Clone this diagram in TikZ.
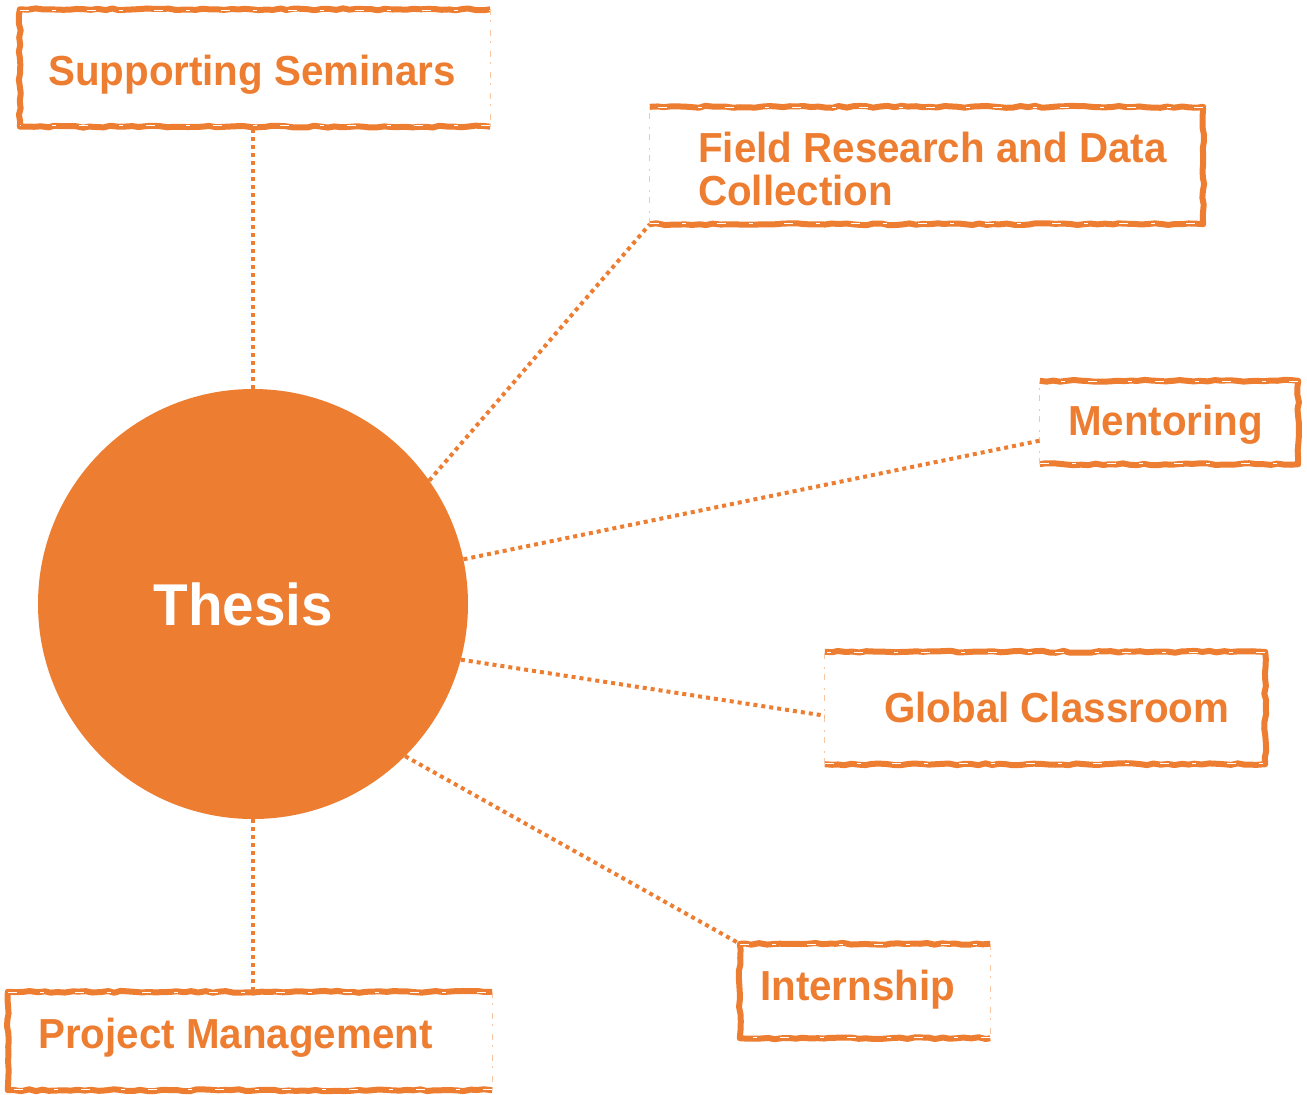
\documentclass[tikz,border=0pt]{standalone}
\usepackage{fontspec}
\setmainfont{Liberation Sans}[FakeStretch=0.96]
\usetikzlibrary{decorations.pathmorphing}
\definecolor{org}{HTML}{ED7D31}
\begin{document}
\begin{tikzpicture}[x=1pt,y=-1pt,
  lbl/.style={text=org,font=\bfseries\fontsize{42}{44}\selectfont,inner sep=0pt},
  boxnode/.style={draw=none,inner sep=0pt,minimum width=#1},
  thickside/.style={draw=org,line width=6pt,line join=round,
    decorate,decoration={random steps,segment length=7pt,amplitude=1pt}},
  streak/.style={draw=white,line width=0.7pt,dash pattern=on 9pt off 23pt on 4pt off 31pt},
  faintside/.style={draw=org!45,line width=1.2pt,dash pattern=on 6pt off 5pt on 2pt off 8pt},
  link/.style={draw=org,line width=4pt,dash pattern=on 4pt off 4pt}]
\useasboundingbox (0,0) rectangle (1307,1095);

% central circle
\node[circle,fill=org,minimum size=430pt,inner sep=0pt] (thesis) at (253,604) {};
\node[text=white,font=\bfseries\fontsize{59}{60}\selectfont,inner sep=0pt,anchor=base] (thesis-t) at (243.5,625) {Thesis};

% boxes
\node[boxnode=470pt,minimum height=117pt] (ss) at (255,68) {};
\node[boxnode=553pt,minimum height=117pt] (fr) at (926.5,165.5) {};
\node[boxnode=258pt,minimum height=83pt] (me) at (1169,422.5) {};
\node[boxnode=440pt,minimum height=112pt] (gc) at (1045,708) {};
\node[boxnode=250pt,minimum height=94pt] (in) at (865,991) {};
\node[boxnode=484pt,minimum height=98pt] (pm) at (250,1041) {};

% frames: faint right side
\foreach \n in {ss,in,pm}{
  \draw[thickside] (\n.north east) -- (\n.north west) -- (\n.south west) -- (\n.south east);
  \draw[streak] ([yshift=-1pt]\n.north west) -- ([yshift=-1pt]\n.north east);
  \draw[streak] ([yshift=1pt]\n.south east) -- ([yshift=1pt]\n.south west);
  \draw[faintside] (\n.north east) -- (\n.south east);
}
% frames: faint left side
\foreach \n in {fr,me,gc}{
  \draw[thickside] (\n.north west) -- (\n.north east) -- (\n.south east) -- (\n.south west);
  \draw[streak] ([yshift=-1pt]\n.north east) -- ([yshift=-1pt]\n.north west);
  \draw[streak] ([yshift=1pt]\n.south west) -- ([yshift=1pt]\n.south east);
  \draw[faintside] (\n.south west) -- (\n.north west);
}

% labels
\node[lbl,anchor=base west] (ss-t) at (48,85) {Supporting Seminars};
\node[lbl,anchor=base west] (fr-t1) at (698,162) {Field Research and Data};
\node[lbl,anchor=base west] (fr-t2) at (698,205) {Collection};
\node[lbl,anchor=base west] (me-t) at (1068,435) {Mentoring};
\node[lbl,anchor=base west] (gc-t) at (884,722) {Global Classroom};
\node[lbl,anchor=base west] (in-t) at (760,1000) {Internship};
\node[lbl,anchor=base west] (pm-t) at (38,1048) {Project Management};

% connectors
\draw[link] (thesis.north) -- (thesis.north |- ss.south);
\draw[link] (thesis.35) -- (fr.south west);
\draw[link] (thesis.12.6) -- (me.188);
\draw[link] (thesis.-15.4) -- (gc.182);
\draw[link] (thesis.-45) -- (in.north west);
\draw[link] (thesis.south) -- (thesis.south |- pm.north);
\end{tikzpicture}
\end{document}
